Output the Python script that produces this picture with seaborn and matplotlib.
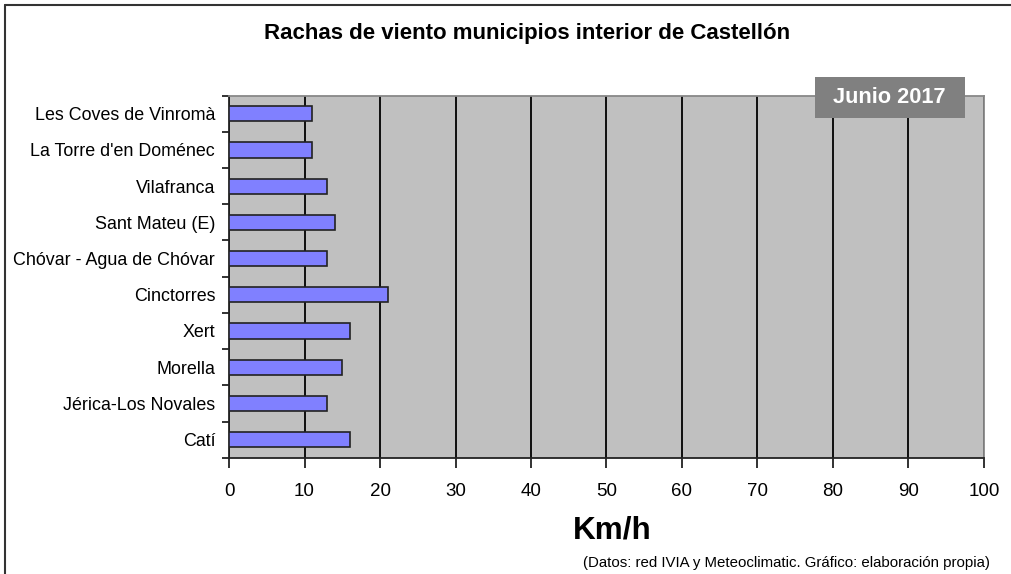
import matplotlib
matplotlib.use("Agg")
import matplotlib.pyplot as plt
import seaborn as sns
from matplotlib.lines import Line2D
from matplotlib.patches import Rectangle
from matplotlib.ticker import MultipleLocator, FixedLocator

# datos
municipios = ["Les Coves de Vinromà", "La Torre d'en Doménec", "Vilafranca",
              "Sant Mateu (E)", "Chóvar - Agua de Chóvar", "Cinctorres",
              "Xert", "Morella", "Jérica-Los Novales", "Catí"]
rachas = [11, 11, 13, 14, 13, 21, 16, 15, 13, 16]

sns.set_style("white")
plt.rcParams['font.family'] = ['Liberation Sans', 'DejaVu Sans']
plt.rcParams['text.color'] = 'black'
plt.rcParams['xtick.color'] = 'black'
plt.rcParams['ytick.color'] = 'black'

fig = plt.figure(figsize=(10.12, 5.74), dpi=100)
ax = fig.add_axes([0.2263, 0.2026, 0.746, 0.6307])
ax.set_facecolor("#c0c0c0")

sns.barplot(x=rachas, y=municipios, orient="h", color="#8080ff",
            saturation=1, width=0.42, edgecolor="#222222", linewidth=1.2,
            ax=ax, zorder=3)

ax.set_xlim(0, 100)
ax.set_ylim(len(municipios) - 0.5, -0.5)
ax.xaxis.set_major_locator(MultipleLocator(10))
ax.grid(axis="x", color="black", linewidth=1.3, zorder=1)
ax.set_axisbelow(True)

# ticks del eje y entre categorias
ax.yaxis.set_minor_locator(FixedLocator([i - 0.5 for i in range(len(municipios) + 1)]))
ax.tick_params(axis="y", which="major", length=0, labelsize=12.9, pad=10)
ax.tick_params(axis="y", which="minor", length=5, width=1.3, color="#222222", left=True)
ax.tick_params(axis="x", which="major", length=7, width=1.3, color="#222222",
               labelsize=13.5, pad=11, bottom=True)
ax.set_xlabel("")
ax.set_ylabel("")

for s in ["left", "bottom"]:
    ax.spines[s].set_color("#222222")
    ax.spines[s].set_linewidth(1.3)
for s in ["top", "right"]:
    ax.spines[s].set_color("#888888")
    ax.spines[s].set_linewidth(1.3)

fig.text(0.521, 0.9425, "Rachas de viento municipios interior de Castellón",
         ha="center", va="center", fontsize=16, fontweight="bold")
fig.text(0.605, 0.075, "Km/h", ha="center", va="center", fontsize=22.7,
         fontweight="bold")
fig.text(0.777, 0.0197, "(Datos: red IVIA y Meteoclimatic. Gráfico: elaboración propia)",
         ha="center", va="center", fontsize=10.8)

# recuadro del mes
fig.add_artist(Rectangle((0.8053, 0.7944), 0.1482, 0.0714, transform=fig.transFigure,
                         facecolor="#808080", edgecolor="none", zorder=5))
fig.text(0.879, 0.830, "Junio 2017", ha="center", va="center", fontsize=15.7,
         fontweight="bold", color="white", zorder=6)

# marco del grafico
fig.add_artist(Line2D([0.005, 0.005], [0.0, 0.991], color="#333333", linewidth=1.5))
fig.add_artist(Line2D([0.005, 1.0], [0.991, 0.991], color="#333333", linewidth=1.5))

fig.savefig("out.png", dpi=100)
